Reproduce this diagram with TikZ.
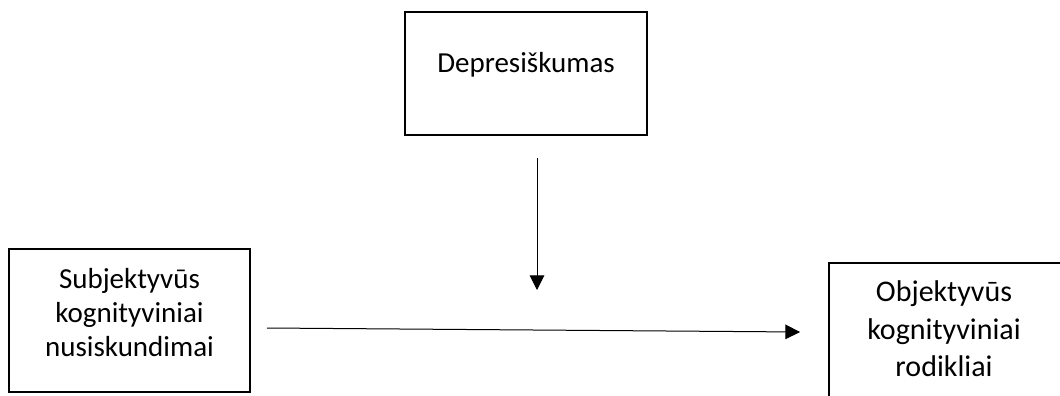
\documentclass[tikz,border=0pt]{standalone}
\usepackage{fontspec}
\setmainfont{Carlito}
\usetikzlibrary{arrows.meta}
\tikzset{
  boxnode/.style={draw, line width=1.5pt, inner sep=0pt},
  lbl/.style={inner sep=0pt, anchor=base},
  conn/.style={line width=0.75pt, -{Triangle[length=11pt,width=11pt]}},
}
\begin{document}
\begin{tikzpicture}[x=0.75pt,y=-0.75pt]
\path[use as bounding box, clip] (0,0) rectangle (1060,396);
\fill[white] (0,0) rectangle (1060,396);
% boxes
\node[boxnode, minimum width=181.5pt, minimum height=92.25pt] (dep) at (526,73.5) {};
\node[boxnode, minimum width=180.75pt, minimum height=107.25pt] (subj) at (129.5,320.5) {};
\node[boxnode, minimum width=176.25pt, minimum height=125.25pt] (obj) at (946.5,346.5) {};
% texts
\node[lbl] (deptext) at (526,72) {\fontsize{21.75}{26}\selectfont Depresiškumas};
\node[lbl] (subjtext) at (129.5,288.3) {\fontsize{21.75}{25.6}\selectfont\begin{tabular}[t]{@{}c@{}}Subjektyvūs\\kognityviniai\\nusiskundimai\end{tabular}};
\node[lbl] (objtext) at (944,301.7) {\fontsize{22.5}{28.1}\selectfont\begin{tabular}[t]{@{}c@{}}Objektyvūs\\kognityviniai\\rodikliai\end{tabular}};
% connectors
\coordinate (hs) at (267,328);
\coordinate (he) at (800,332);
\coordinate (vs) at (537,158);
\coordinate (ve) at (537,290);
\draw[conn] (hs) -- (he);
\draw[conn] (vs) -- (ve);
\end{tikzpicture}
\end{document}
